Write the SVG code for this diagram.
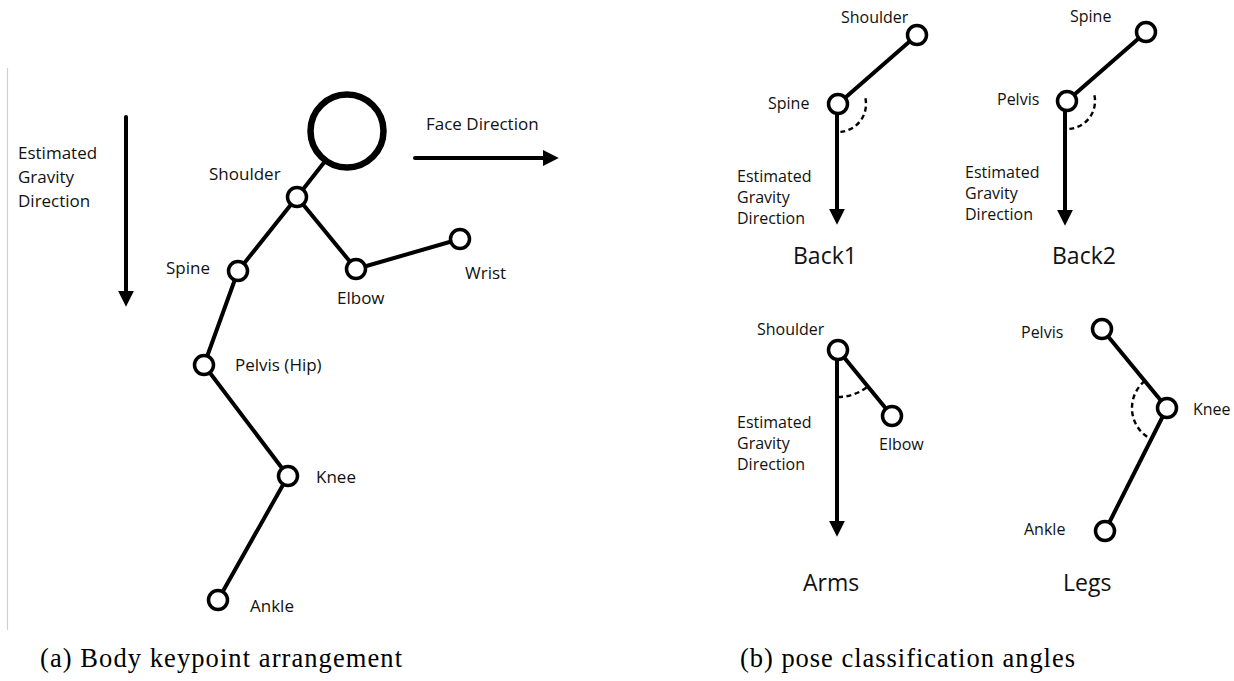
<svg xmlns="http://www.w3.org/2000/svg" width="1234" height="681" viewBox="0 0 1234 681">
<style>
.bone{stroke:#000;stroke-width:4;stroke-linecap:round;fill:none}
.kp{fill:#fff;stroke:#000;stroke-width:3.5}
.arc{fill:none;stroke:#000;stroke-width:2.4;stroke-dasharray:5 3.5}
.lbl{font-family:"Open Sans","Noto Sans",sans-serif;font-size:16px;fill:#111}
.lblL{font-family:"Open Sans","Noto Sans",sans-serif;font-size:17px;fill:#111}
.ttl{font-family:"Open Sans","Noto Sans",sans-serif;font-size:23px;fill:#111}
.cap{font-family:"Liberation Serif","Times New Roman",serif;font-size:26.5px;fill:#000}
</style>
<defs>
<marker id="ah" viewBox="0 0 10 10" refX="2" refY="5" markerWidth="4" markerHeight="4" markerUnits="strokeWidth" orient="auto">
<path d="M0,0 L10,5 L0,10 z" fill="#000"/>
</marker>
</defs>
<rect width="1234" height="681" fill="#fff"/>
<line x1="7.5" y1="68" x2="7.5" y2="630" stroke="#d0d0d0" stroke-width="1.2"/>

<g id="connectors">
<!-- left panel -->
<line class="bone" x1="126" y1="117" x2="126" y2="294" marker-end="url(#ah)" stroke-linecap="butt"/>
<line class="bone" x1="415" y1="158" x2="546" y2="158" marker-end="url(#ah)" stroke-linecap="butt"/>
<line class="bone" x1="297" y1="197" x2="326" y2="160"/>
<line class="bone" x1="297" y1="197" x2="238" y2="271"/>
<line class="bone" x1="297" y1="197" x2="356" y2="269"/>
<line class="bone" x1="356" y1="269" x2="460" y2="239"/>
<line class="bone" x1="238" y1="271" x2="204" y2="365"/>
<line class="bone" x1="204" y1="365" x2="288" y2="476"/>
<line class="bone" x1="288" y1="476" x2="218" y2="600"/>
<!-- Back1 -->
<line class="bone" x1="838" y1="104" x2="917" y2="35"/>
<line class="bone" x1="837" y1="104" x2="837" y2="212" marker-end="url(#ah)" stroke-linecap="butt"/>
<path class="arc" d="M865.4,98.2 A28,28 0 0 1 840.4,131.9"/>
<!-- Back2 -->
<line class="bone" x1="1067" y1="101" x2="1146" y2="32"/>
<line class="bone" x1="1065" y1="101" x2="1065" y2="213" marker-end="url(#ah)" stroke-linecap="butt"/>
<path class="arc" d="M1094.4,95.2 A28,28 0 0 1 1069.4,128.9"/>
<!-- Arms -->
<line class="bone" x1="838" y1="350" x2="892" y2="416"/>
<line class="bone" x1="837" y1="350" x2="837" y2="524" marker-end="url(#ah)" stroke-linecap="butt"/>
<path class="arc" d="M838,397 A47,47 0 0 0 867.8,386.4"/>
<!-- Legs -->
<line class="bone" x1="1102" y1="329" x2="1167" y2="408"/>
<line class="bone" x1="1167" y1="408" x2="1105" y2="531"/>
<path class="arc" d="M1144.7,381 A35,35 0 0 0 1151.3,439.3"/>
</g>

<g id="head"><circle cx="347" cy="131" r="36.5" fill="#fff" stroke="#000" stroke-width="6.5"/></g>
<g id="shoulder"><circle class="kp" cx="297" cy="197" r="9.5"/><text class="lblL" x="209" y="180">Shoulder</text></g>
<g id="spine"><circle class="kp" cx="238" cy="271" r="9.5"/><text class="lblL" x="166" y="274">Spine</text></g>
<g id="elbow"><circle class="kp" cx="356" cy="269" r="9.5"/><text class="lblL" x="337" y="304">Elbow</text></g>
<g id="wrist"><circle class="kp" cx="460" cy="239" r="9.5"/><text class="lblL" x="465" y="279">Wrist</text></g>
<g id="pelvis"><circle class="kp" cx="204" cy="365" r="9.5"/><text class="lblL" x="235" y="371">Pelvis (Hip)</text></g>
<g id="knee"><circle class="kp" cx="288" cy="476" r="9.5"/><text class="lblL" x="316" y="483">Knee</text></g>
<g id="ankle"><circle class="kp" cx="218" cy="600" r="9.5"/><text class="lblL" x="250" y="612">Ankle</text></g>
<g id="gravity-label"><text class="lblL"><tspan x="18" y="159">Estimated</tspan><tspan x="18" y="183">Gravity</tspan><tspan x="18" y="207">Direction</tspan></text></g>
<g id="face-label"><text class="lblL" x="426" y="130">Face Direction</text></g>

<g id="back1">
<circle class="kp" cx="917" cy="35" r="9.5"/>
<circle class="kp" cx="838" cy="104" r="9.5"/>
<text class="lbl" x="841" y="23">Shoulder</text>
<text class="lbl" x="768" y="109">Spine</text>
<text class="lbl"><tspan x="737" y="182">Estimated</tspan><tspan x="737" y="203">Gravity</tspan><tspan x="737" y="224">Direction</tspan></text>
<text class="ttl" x="793" y="264">Back1</text>
</g>
<g id="back2">
<circle class="kp" cx="1146" cy="32" r="9.5"/>
<circle class="kp" cx="1067" cy="101" r="9.5"/>
<text class="lbl" x="1070" y="22">Spine</text>
<text class="lbl" x="997" y="105">Pelvis</text>
<text class="lbl"><tspan x="965" y="178">Estimated</tspan><tspan x="965" y="199">Gravity</tspan><tspan x="965" y="220">Direction</tspan></text>
<text class="ttl" x="1052" y="264">Back2</text>
</g>
<g id="arms">
<circle class="kp" cx="838" cy="350" r="9.5"/>
<circle class="kp" cx="892" cy="416" r="9.5"/>
<text class="lbl" x="757" y="335">Shoulder</text>
<text class="lbl" x="879" y="450">Elbow</text>
<text class="lbl"><tspan x="737" y="428">Estimated</tspan><tspan x="737" y="449">Gravity</tspan><tspan x="737" y="470">Direction</tspan></text>
<text class="ttl" x="803" y="591">Arms</text>
</g>
<g id="legs">
<circle class="kp" cx="1102" cy="329" r="9.5"/>
<circle class="kp" cx="1167" cy="408" r="9.5"/>
<circle class="kp" cx="1105" cy="531" r="9.5"/>
<text class="lbl" x="1021" y="338">Pelvis</text>
<text class="lbl" x="1193" y="415">Knee</text>
<text class="lbl" x="1024" y="535">Ankle</text>
<text class="ttl" x="1063" y="591">Legs</text>
</g>

<g id="captions">
<text class="cap" x="40" y="667" textLength="362" lengthAdjust="spacing">(a) Body keypoint arrangement</text>
<text class="cap" x="740" y="667" textLength="335" lengthAdjust="spacing">(b) pose classification angles</text>
</g>
</svg>
